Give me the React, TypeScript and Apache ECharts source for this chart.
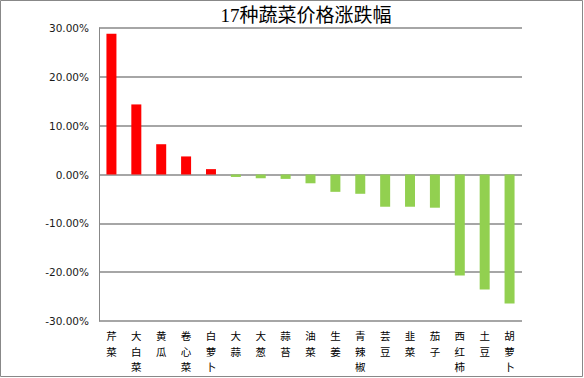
import React, { useEffect, useRef } from "react";
import * as echarts from "echarts";

const categories = ["芹菜", "大白菜", "黄瓜", "卷心菜", "白萝卜", "大蒜", "大葱", "蒜苔", "油菜", "生姜", "青辣椒", "芸豆", "韭菜", "茄子", "西红柿", "土豆", "胡萝卜"];
const changeValues = [0.288, 0.1435, 0.062, 0.037, 0.011, -0.005, -0.0075, -0.009, -0.018, -0.0355, -0.0395, -0.066, -0.066, -0.068, -0.207, -0.2355, -0.264];
const yTicks = { min: -0.3, max: 0.3, interval: 0.1 };
const title = "17种蔬菜价格涨跌幅";

export default function App() {
  const ref = useRef<HTMLDivElement>(null);
  useEffect(() => {
    if (!ref.current) return;
    const chart = echarts.init(ref.current, null, { renderer: "svg" });
    chart.setOption({
      animation: false,
      backgroundColor: "#fff",
      grid: { left: 99, right: 62, top: 28, bottom: 57, containLabel: false },
      graphic: [
        {
          type: "rect",
          shape: { x: 0.5, y: 0.5, width: 582, height: 376 },
          style: { fill: "none", stroke: "#888", lineWidth: 1 },
          silent: true,
        },
        {
          type: "text",
          x: 306,
          y: 15,
          style: {
            text: title,
            fill: "#000",
            font: "19px 'Liberation Serif', 'Noto Sans CJK SC', serif",
            textAlign: "center",
            textVerticalAlign: "middle",
          },
        },
      ],
      xAxis: {
        type: "category",
        data: categories,
        axisLine: { show: false, onZero: false },
        axisTick: { show: false },
        splitLine: { show: false },
        axisLabel: {
          interval: 0,
          margin: 7,
          color: "#000",
          fontSize: 10.5,
          lineHeight: 15.5,
          fontFamily: "'Noto Sans CJK SC', sans-serif",
          formatter: (v: string) => v.split("").join("\n"),
        },
      },
      yAxis: {
        type: "value",
        min: yTicks.min,
        max: yTicks.max,
        interval: yTicks.interval,
        axisLine: { show: true, onZero: false, lineStyle: { color: "#888", width: 1 } },
        axisTick: { show: false },
        splitLine: { show: true, lineStyle: { color: "#888", width: 1.5 } },
        axisLabel: {
          margin: 10,
          color: "#1a1a1a",
          fontSize: 10.5,
          fontFamily: "'DejaVu Sans', sans-serif",
          formatter: (v: number) => (Math.round(v * 1000) / 10).toFixed(2) + "%",
        },
      },
      series: [
        {
          type: "bar",
          data: changeValues,
          barWidth: 10,
          itemStyle: {
            color: (p: any) => (p.value >= 0 ? "#FF0000" : "#92D050"),
          },
        },
      ],
    });
    return () => chart.dispose();
  }, []);
  return (
    <div
      ref={ref}
      style={{ position: "fixed", left: 0, top: 0, width: 584, height: 378 }}
    />
  );
}
